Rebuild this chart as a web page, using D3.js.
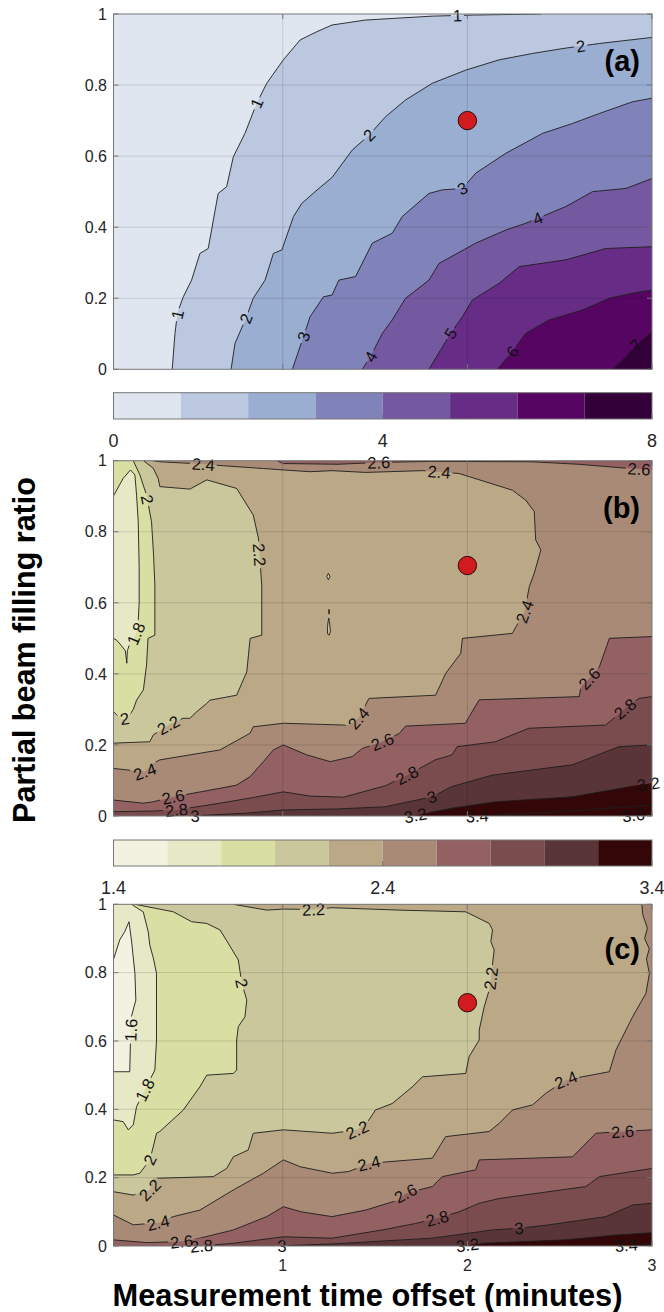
<!DOCTYPE html>
<html><head><meta charset="utf-8">
<script src="https://cdn.jsdelivr.net/npm/d3@7"></script>
<style>
body{margin:0;background:#fff;}
svg text{font-family:"Liberation Sans",Arial,Helvetica,sans-serif;}
</style></head><body>
<svg id="chart" width="664" height="1312"></svg>
<script>
// ---------------- DATA ----------------
const xDomain = [0.083, 3];
const yTicks = [0, 0.2, 0.4, 0.6, 0.8, 1];
const xTicks = [1, 2, 3];

const levelsA = [0,1,2,3,4,5,6,7,8];
const colorsA = ["#dfe6f0","#bcc8e0","#9aaed2","#8083b9","#7458a0","#672d86","#570563","#340039"];
const cbTicksA = [0,4,8];

const levelsBC = [1.4,1.6,1.8,2.0,2.2,2.4,2.6,2.8,3.0,3.2,3.4];
const colorsBC = ["#f2f2e1","#e6e8c6","#d9dea2","#c9c79b","#bba887","#a98a77","#946162","#7b4c4e","#5a3537","#330708"];
const cbTicksBC = [1.4,2.4,3.4];

const dotA = [2.0, 0.70];
const dotB = [2.0, 0.705];
const dotC = [2.0, 0.712];

// panel (a) contour lines [minutes, ratio]
const a1 = [[0.401,0],[0.416,0.101],[0.43,0.16],[0.461,0.204],[0.506,0.251],[0.551,0.326],[0.596,0.34],[0.65,0.495],[0.696,0.514],[0.732,0.598],[0.795,0.664],[0.859,0.749],[0.913,0.805],[1.003,0.871],[1.094,0.927],[1.184,0.95],[1.267,0.969],[1.448,0.983],[1.81,0.994],[2.027,0.997],[2.4,1]];
const a2 = [[0.72,0],[0.741,0.073],[0.80,0.143],[0.84,0.20],[0.904,0.251],[0.949,0.326],[0.995,0.336],[1.058,0.43],[1.103,0.467],[1.175,0.50],[1.267,0.54],[1.376,0.617],[1.467,0.659],[1.557,0.711],[1.665,0.758],[1.81,0.805],[1.991,0.842],[2.172,0.871],[2.353,0.889],[2.533,0.904],[2.715,0.917],[3,0.934]];
const a3 = [[1.052,0],[1.112,0.092],[1.148,0.148],[1.22,0.204],[1.267,0.209],[1.304,0.251],[1.394,0.261],[1.485,0.355],[1.593,0.383],[1.647,0.43],[1.792,0.495],[1.864,0.505],[1.973,0.509],[2.045,0.552],[2.208,0.608],[2.407,0.664],[2.57,0.692],[2.715,0.72],[2.895,0.753],[3,0.763]];
const a4 = [[1.43,0],[1.476,0.036],[1.539,0.101],[1.593,0.139],[1.665,0.20],[1.792,0.251],[1.846,0.298],[2.045,0.355],[2.208,0.392],[2.316,0.411],[2.533,0.458],[2.678,0.50],[2.859,0.509],[3,0.537]];
const a5 = [[1.792,0],[1.909,0.101],[1.973,0.148],[2.027,0.195],[2.172,0.242],[2.281,0.289],[2.533,0.308],[2.75,0.34],[3,0.345]];
const a6 = [[2.163,0],[2.244,0.05],[2.316,0.101],[2.443,0.139],[2.624,0.167],[2.769,0.20],[2.895,0.214],[3,0.223]];
const a7 = [[2.787,0],[2.86,0.036],[2.913,0.068],[3,0.106]];

// panel (b) contour lines
const b18 = [[0.082,0.90],[0.135,0.95],[0.175,0.974],[0.199,0.96],[0.208,0.903],[0.217,0.828],[0.222,0.70],[0.222,0.60],[0.215,0.53],[0.20,0.505],[0.175,0.49],[0.158,0.465],[0.155,0.43],[0.147,0.465],[0.125,0.48],[0.10,0.495],[0.082,0.50]];
const b20 = [[0.19,1],[0.226,0.96],[0.262,0.903],[0.289,0.828],[0.30,0.735],[0.307,0.65],[0.307,0.509],[0.27,0.50],[0.262,0.425],[0.245,0.355],[0.208,0.326],[0.19,0.30],[0.16,0.276],[0.13,0.272],[0.10,0.285],[0.082,0.294]];
const b22 = [[0.245,1],[0.298,0.979],[0.325,0.95],[0.334,0.927],[0.497,0.92],[0.588,0.946],[0.75,0.922],[0.84,0.847],[0.868,0.782],[0.886,0.65],[0.886,0.509],[0.823,0.50],[0.805,0.406],[0.75,0.34],[0.605,0.326],[0.588,0.317],[0.533,0.293],[0.497,0.275],[0.46,0.275],[0.38,0.256],[0.298,0.228],[0.28,0.209],[0.082,0.205]];
const b24 = [[0.297,1],[0.334,0.997],[0.515,0.992],[0.70,0.985],[0.895,0.978],[1.003,0.974],[1.148,0.969],[1.267,0.972],[1.448,0.967],[1.756,0.972],[1.955,0.964],[2.244,0.917],[2.316,0.889],[2.362,0.857],[2.37,0.777],[2.398,0.749],[2.362,0.683],[2.335,0.645],[2.31,0.575],[2.253,0.523],[2.244,0.514],[1.973,0.50],[1.964,0.458],[1.882,0.401],[1.828,0.34],[1.467,0.331],[1.41,0.275],[1.36,0.256],[1.329,0.256],[1.003,0.261],[0.84,0.251],[0.823,0.233],[0.66,0.186],[0.334,0.158],[0.298,0.148],[0.253,0.125],[0.15,0.13],[0.082,0.134]];
const b26top = [[0.97,1],[1.0,0.992],[1.3,0.99],[1.52,0.995],[1.8,0.998],[2.35,0.997],[2.6,0.99],[2.86,0.979],[3,0.975]];
const b26 = [[0.082,0.045],[0.244,0.036],[0.298,0.04],[0.406,0.054],[0.66,0.078],[0.75,0.087],[0.823,0.111],[0.895,0.153],[0.949,0.186],[1.003,0.20],[1.13,0.172],[1.257,0.153],[1.376,0.167],[1.43,0.19],[1.539,0.209],[1.63,0.232],[1.665,0.253],[1.99,0.261],[2.01,0.28],[2.064,0.327],[2.606,0.336],[2.615,0.364],[2.66,0.387],[2.715,0.42],[2.769,0.50],[3,0.505]];
const b28 = [[0.082,0.012],[0.298,0.014],[0.424,0.017],[0.66,0.036],[0.84,0.052],[1.003,0.068],[1.148,0.056],[1.329,0.053],[1.555,0.085],[1.673,0.115],[1.826,0.158],[1.917,0.172],[1.944,0.195],[2.152,0.209],[2.333,0.247],[2.749,0.256],[2.867,0.308],[2.93,0.331],[3,0.336]];
const b30 = [[0.50,0],[0.8,0.008],[1.003,0.017],[1.3,0.02],[1.555,0.026],[1.808,0.054],[1.917,0.083],[2.134,0.115],[2.568,0.144],[2.82,0.195],[3,0.20]];
const b32 = [[1.70,0],[1.917,0.022],[2.152,0.040],[2.568,0.054],[2.93,0.087],[3,0.092]];
const b34 = [[2.05,0],[2.5,0.012],[3,0.031]];
const b36 = [[2.85,0],[3,0.008]];
const bLoop1 = [[1.247,0.683],[1.256,0.674],[1.247,0.665],[1.238,0.674]];
const bLoop2 = [[1.249,0.557],[1.254,0.54],[1.258,0.52],[1.252,0.509],[1.243,0.512],[1.242,0.53],[1.245,0.545]];
const bLoop3 = [[1.249,0.581],[1.252,0.581],[1.252,0.569],[1.249,0.569]];

// panel (c) contour lines
const c16 = [[0.082,0.837],[0.117,0.896],[0.144,0.92],[0.167,0.949],[0.18,0.896],[0.199,0.798],[0.204,0.72],[0.18,0.671],[0.175,0.603],[0.171,0.51],[0.082,0.51]];
const c18 = [[0.18,1],[0.244,0.978],[0.271,0.92],[0.28,0.88],[0.30,0.84],[0.316,0.798],[0.316,0.603],[0.307,0.515],[0.253,0.457],[0.208,0.408],[0.19,0.354],[0.163,0.34],[0.135,0.364],[0.082,0.369]];
const c20 = [[0.199,1],[0.407,0.978],[0.506,0.949],[0.588,0.944],[0.66,0.925],[0.70,0.89],[0.759,0.837],[0.778,0.769],[0.805,0.72],[0.795,0.671],[0.759,0.642],[0.75,0.603],[0.75,0.515],[0.732,0.505],[0.588,0.50],[0.551,0.466],[0.461,0.398],[0.334,0.335],[0.316,0.33],[0.298,0.29],[0.28,0.252],[0.226,0.213],[0.19,0.208],[0.082,0.208]];
const c22 = [[0.732,1],[0.913,0.983],[1.003,0.986],[1.166,0.985],[1.267,0.99],[1.629,0.983],[1.991,0.978],[2.118,0.944],[2.136,0.925],[2.127,0.891],[2.145,0.866],[2.127,0.783],[2.118,0.749],[2.091,0.70],[2.064,0.632],[2.064,0.603],[2.009,0.554],[1.991,0.505],[1.756,0.495],[1.702,0.466],[1.593,0.417],[1.502,0.398],[1.467,0.369],[1.403,0.34],[1.267,0.33],[1.003,0.34],[0.84,0.33],[0.813,0.281],[0.732,0.261],[0.696,0.227],[0.624,0.203],[0.298,0.198],[0.28,0.164],[0.19,0.149],[0.082,0.159]];
const c24 = [[0.082,0.091],[0.19,0.062],[0.325,0.068],[0.407,0.086],[0.551,0.105],[0.732,0.164],[0.895,0.213],[1.003,0.252],[1.094,0.232],[1.267,0.213],[1.358,0.218],[1.467,0.242],[1.81,0.257],[1.882,0.32],[2.118,0.335],[2.172,0.359],[2.244,0.398],[2.353,0.413],[2.425,0.447],[2.533,0.486],[2.769,0.51],[2.805,0.574],[2.895,0.671],[2.967,0.739],[2.986,0.798],[2.97,0.84],[2.985,0.87],[2.96,0.90],[2.975,0.93],[2.95,0.97],[2.945,1]];
const c26 = [[0.082,0.018],[0.262,0.01],[0.452,0.013],[0.551,0.023],[0.732,0.047],[0.913,0.086],[1.003,0.115],[1.1,0.10],[1.267,0.086],[1.448,0.105],[1.629,0.135],[1.665,0.154],[1.81,0.174],[1.864,0.203],[2.045,0.223],[2.064,0.252],[2.57,0.261],[2.696,0.33],[2.841,0.335],[3,0.34]];
const c28 = [[0.55,0],[0.732,0.008],[1.003,0.027],[1.267,0.023],[1.539,0.047],[1.72,0.066],[1.837,0.081],[1.955,0.10],[2.064,0.125],[2.172,0.139],[2.642,0.174],[2.715,0.203],[3,0.227]];
const c30 = [[0.97,0],[1.267,0.006],[1.81,0.023],[2.136,0.047],[2.28,0.052],[2.443,0.062],[2.75,0.086],[2.895,0.12],[3,0.125]];
const c32 = [[1.95,0],[2.08,0.008],[2.533,0.018],[2.805,0.032],[3,0.039]];
const c34 = [[2.8,0],[3,0.008]];

// contour label anchors [level, minutes, ratio]
const labelsA = [[1,0.443,0.153],[1,0.859,0.749],[1,1.946,0.992],[2,0.80,0.143],[2,1.467,0.659],[2,2.615,0.905],[3,1.112,0.092],[3,1.973,0.509],[4,1.476,0.036],[4,2.389,0.415],[5,1.909,0.101],[6,2.244,0.05],[7,2.913,0.068]];
const labelsB = [[2.4,0.57,0.993],[2.4,1.846,0.965],[2.4,2.31,0.575],[2.4,1.41,0.275],[2.4,0.253,0.125],
  [2.6,1.52,0.997],[2.6,2.93,0.975],[2.6,0.406,0.054],[2.6,1.539,0.209],[2.6,2.66,0.387],
  [2.8,0.424,0.017],[2.8,1.673,0.115],[2.8,2.86,0.298],[3,0.524,0.002],[3,1.808,0.054],
  [3.2,1.718,0.003],[3.2,2.98,0.092],[3.4,2.053,0.0],[3.6,2.9,0.0],
  [2.2,0.38,0.256],[2.2,0.868,0.735],[2,0.245,0.889],[2,0.144,0.272],[1.8,0.199,0.514]];
const labelsC = [[2.2,1.166,0.985],[2.2,2.127,0.783],[2.2,1.403,0.34],[2.2,0.28,0.164],
  [2,0.778,0.769],[2,0.28,0.252],[1.8,0.253,0.457],[1.6,0.18,0.632],
  [2.4,0.325,0.068],[2.4,1.467,0.242],[2.4,2.533,0.486],
  [2.6,0.452,0.013],[2.6,1.665,0.154],[2.6,2.841,0.335],
  [2.8,0.56,0.0],[2.8,1.837,0.081],[3,0.995,0.0],[3,2.28,0.052],[3.2,2.0,0.005],[3.4,2.86,0.003]];

// fill regions (painted in order): hi = region above level, dir = boundary walk
const regionsA = [
  {level:1,pts:a1,hi:true,dir:-1},{level:2,pts:a2,hi:true,dir:-1},{level:3,pts:a3,hi:true,dir:-1},
  {level:4,pts:a4,hi:true,dir:-1},{level:5,pts:a5,hi:true,dir:-1},{level:6,pts:a6,hi:true,dir:-1},
  {level:7,pts:a7,hi:true,dir:-1}];
const regionsB = [
  {level:2.6,pts:b26,hi:true,dir:-1},{level:2.8,pts:b28,hi:true,dir:-1},{level:3.0,pts:b30,hi:true,dir:-1},
  {level:3.2,pts:b32,hi:true,dir:-1},{level:3.4,pts:b34,hi:true,dir:-1},{level:3.6,pts:b36,hi:true,dir:-1},
  {level:2.6,pts:b26top,hi:true,dir:1},
  {level:2.4,pts:b24,hi:false,dir:-1},{level:2.2,pts:b22,hi:false,dir:-1},{level:2.0,pts:b20,hi:false,dir:-1},
  {level:1.8,pts:b18,hi:false,dir:-1},
  {level:2.2,pts:bLoop1,hi:false,dir:0},{level:2.2,pts:bLoop2,hi:false,dir:0},{level:2.2,pts:bLoop3,hi:false,dir:0}];
const regionsC = [
  {level:2.6,pts:c26,hi:true,dir:-1},{level:2.8,pts:c28,hi:true,dir:-1},{level:3.0,pts:c30,hi:true,dir:-1},
  {level:3.2,pts:c32,hi:true,dir:-1},{level:3.4,pts:c34,hi:true,dir:-1},
  {level:2.4,pts:c24,hi:false,dir:1},{level:2.2,pts:c22,hi:false,dir:-1},{level:2.0,pts:c20,hi:false,dir:-1},
  {level:1.8,pts:c18,hi:false,dir:-1},{level:1.6,pts:c16,hi:false,dir:-1}];

// ---------------- DRAWING ----------------
const svg = d3.select("#chart");
const defs = svg.append("defs");
const X0 = 113.5, X1 = 652;
const xs = d3.scaleLinear().domain(xDomain).range([X0, X1]);

const colorA = d3.scaleThreshold().domain(levelsA.slice(1,-1)).range(colorsA);
const colorBC = d3.scaleThreshold().domain(levelsBC.slice(1,-1)).range(colorsBC);

const panels = [
  {name:"(a)", top:14, bottom:369.3, bg:0, step:1, color:colorA, regions:regionsA, labels:labelsA, dot:dotA,
   cb:{top:392.7, bottom:419, levels:levelsA, colors:colorsA, ticks:cbTicksA}, xlab:false},
  {name:"(b)", top:460.7, bottom:816, bg:2.4, step:0.2, color:colorBC, regions:regionsB, labels:labelsB, dot:dotB,
   cb:{top:840, bottom:866, levels:levelsBC, colors:colorsBC, ticks:cbTicksBC}, xlab:false},
  {name:"(c)", top:904.3, bottom:1246, bg:2.4, step:0.2, color:colorBC, regions:regionsC, labels:labelsC, dot:dotC,
   cb:null, xlab:true}
];

function closeRing(pts, dir) {
  if (!dir) return pts.slice();
  const [x0, x1] = xDomain, Wd = x1 - x0, P = 2*Wd + 2;
  const perim = ([x, y]) => {
    if (x <= x0 + 0.005) return 2*Wd + 1 + (1 - y);
    if (y <= 0.001) return x - x0;
    if (x >= x1 - 0.001) return Wd + y;
    return Wd + 1 + (x1 - x);
  };
  const corners = [[0,[x0,0]],[Wd,[x1,0]],[Wd+1,[x1,1]],[2*Wd+1,[x0,1]]];
  const sE = perim(pts[pts.length-1]), sS = perim(pts[0]);
  const dist = s => dir > 0 ? (((s - sE) % P) + P) % P : (((sE - s) % P) + P) % P;
  const dS = dist(sS);
  const cs = corners.filter(c => { const d = dist(c[0]); return d > 1e-9 && d < dS; })
                    .sort((a,b) => dist(a[0]) - dist(b[0]));
  return pts.concat(cs.map(c => c[1]));
}

const mask = defs.append("mask").attr("id","lblmask").attr("maskUnits","userSpaceOnUse")
  .attr("x",0).attr("y",0).attr("width",664).attr("height",1312);
mask.append("rect").attr("width",664).attr("height",1312).attr("fill","#fff");

const fmtTick = d3.format("~g");

panels.forEach((p, pi) => {
  const ys = d3.scaleLinear().domain([0,1]).range([p.bottom, p.top]);
  const line = d3.line().x(d => xs(d[0])).y(d => ys(d[1]));
  const clipId = "clip" + pi;
  defs.append("clipPath").attr("id", clipId).append("rect")
    .attr("x", X0).attr("y", p.top).attr("width", X1 - X0).attr("height", p.bottom - p.top);

  const g = svg.append("g");
  const fills = g.append("g").attr("clip-path", `url(#${clipId})`);
  fills.append("rect").attr("x", X0).attr("y", p.top).attr("width", X1 - X0).attr("height", p.bottom - p.top)
    .attr("fill", p.color(p.bg + 1e-6));
  p.regions.forEach(r => {
    const band = r.hi ? r.level : r.level - p.step;
    fills.append("path").attr("d", line(closeRing(r.pts, r.dir)) + "Z")
      .attr("fill", p.color(band + 1e-6)).attr("stroke", "none");
  });

  // grid
  const grid = g.append("g").attr("stroke", "#000").attr("stroke-opacity", 0.13).attr("stroke-width", 1);
  xTicks.filter(t => t < xDomain[1]).forEach(t => grid.append("line").attr("x1", xs(t)).attr("x2", xs(t)).attr("y1", p.top).attr("y2", p.bottom));
  yTicks.filter(t => t > 0 && t < 1).forEach(t => grid.append("line").attr("x1", X0).attr("x2", X1).attr("y1", ys(t)).attr("y2", ys(t)));

  // contour lines
  const lines = g.append("g").attr("clip-path", `url(#${clipId})`).append("g").attr("mask", "url(#lblmask)")
    .attr("fill", "none").attr("stroke", "#1e1e1e").attr("stroke-width", 0.9);
  p.regions.forEach(r => {
    lines.append("path").attr("d", line(r.pts) + (r.dir === 0 ? "Z" : ""));
  });

  // labels
  const lab = g.append("g").attr("fill", "#111").attr("font-size", 16.5);
  p.labels.forEach(([lev, lx, ly]) => {
    const px = xs(lx), py = ys(ly);
    let best = null;
    p.regions.filter(r => Math.abs(r.level - lev) < 1e-6).forEach(r => {
      const sp = r.pts.map(q => [xs(q[0]), ys(q[1])]);
      const cum = [0];
      for (let i = 1; i < sp.length; i++) cum.push(cum[i-1] + Math.hypot(sp[i][0]-sp[i-1][0], sp[i][1]-sp[i-1][1]));
      for (let i = 0; i < sp.length - 1; i++) {
        const [x1, y1] = sp[i], [x2, y2] = sp[i+1];
        const dx = x2 - x1, dy = y2 - y1, L2 = dx*dx + dy*dy;
        let t = L2 ? ((px - x1)*dx + (py - y1)*dy) / L2 : 0;
        t = Math.max(0, Math.min(1, t));
        const qx = x1 + t*dx, qy = y1 + t*dy, d = (qx-px)**2 + (qy-py)**2;
        if (!best || d < best.d) best = {d, qx, qy, s: cum[i] + t*Math.sqrt(L2), sp, cum};
      }
    });
    if (!best) return;
    const at = s => {
      const {sp, cum} = best;
      s = Math.max(0, Math.min(cum[cum.length-1], s));
      let i = 0; while (i < cum.length - 2 && cum[i+1] < s) i++;
      const seg = cum[i+1] - cum[i] || 1, t = (s - cum[i]) / seg;
      return [sp[i][0] + t*(sp[i+1][0]-sp[i][0]), sp[i][1] + t*(sp[i+1][1]-sp[i][1])];
    };
    const pa = at(best.s - 10), pb = at(best.s + 10);
    let ang = Math.atan2(pb[1]-pa[1], pb[0]-pa[0]) * 180 / Math.PI;
    if (ang > 90) ang -= 180; if (ang < -90) ang += 180;
    const tf = `translate(${best.qx},${best.qy}) rotate(${ang})`;
    const txt = lab.append("text").attr("transform", tf).attr("text-anchor", "middle").attr("dy", "0.36em").text(String(lev));
    const w = txt.node().getComputedTextLength();
    mask.append("rect").attr("transform", tf).attr("x", -w/2 - 2).attr("y", -7.5).attr("width", w + 4).attr("height", 15).attr("fill", "#000");
  });

  // red dot
  g.append("circle").attr("cx", xs(p.dot[0])).attr("cy", ys(p.dot[1])).attr("r", 9.2)
    .attr("fill", "#d11b1e").attr("stroke", "#2a0a0a").attr("stroke-width", 1);

  // axes box + ticks
  const ax = g.append("g").attr("stroke", "#767676").attr("stroke-width", 1).attr("fill", "none");
  ax.append("rect").attr("x", X0).attr("y", p.top).attr("width", X1 - X0).attr("height", p.bottom - p.top);
  yTicks.forEach(t => {
    ax.append("line").attr("x1", X0).attr("x2", X0 + 5).attr("y1", ys(t)).attr("y2", ys(t));
    ax.append("line").attr("x1", X1).attr("x2", X1 - 5).attr("y1", ys(t)).attr("y2", ys(t));
  });
  xTicks.forEach(t => {
    ax.append("line").attr("x1", xs(t)).attr("x2", xs(t)).attr("y1", p.bottom).attr("y2", p.bottom - 5);
    ax.append("line").attr("x1", xs(t)).attr("x2", xs(t)).attr("y1", p.top).attr("y2", p.top + 5);
  });
  const tl = g.append("g").attr("fill", "#262626").attr("font-size", 16);
  yTicks.forEach(t => tl.append("text").attr("x", 107).attr("y", ys(t) + 5.7).attr("text-anchor", "end").text(fmtTick(t)));
  if (p.xlab) xTicks.forEach(t => tl.append("text").attr("x", xs(t)).attr("y", p.bottom + 25).attr("text-anchor", "middle").text(fmtTick(t)));

  // panel letter
  g.append("text").attr("x", 640).attr("y", ys(0.84)).attr("text-anchor", "end")
    .attr("font-size", 29).attr("font-weight", "bold").attr("fill", "#000").text(p.name);

  // colorbar
  if (p.cb) {
    const c = p.cb;
    const cs = d3.scaleLinear().domain([c.levels[0], c.levels[c.levels.length-1]]).range([X0, X1]);
    const cg = g.append("g");
    c.colors.forEach((col, i) => cg.append("rect").attr("x", cs(c.levels[i])).attr("y", c.top)
      .attr("width", cs(c.levels[i+1]) - cs(c.levels[i])).attr("height", c.bottom - c.top).attr("fill", col));
    cg.append("rect").attr("x", X0).attr("y", c.top).attr("width", X1 - X0).attr("height", c.bottom - c.top)
      .attr("fill", "none").attr("stroke", "#767676");
    c.ticks.forEach(t => {
      cg.append("line").attr("x1", cs(t)).attr("x2", cs(t)).attr("y1", c.bottom).attr("y2", c.bottom - 5).attr("stroke", "#767676");
      cg.append("text").attr("x", cs(t)).attr("y", c.bottom + 28).attr("text-anchor", "middle")
        .attr("font-size", 18).attr("fill", "#262626").text(fmtTick(t));
    });
  }
});

// axis titles
svg.append("text").attr("transform", "translate(35,650) rotate(-90)").attr("text-anchor", "middle")
  .attr("font-size", 30.5).attr("font-weight", "bold").attr("fill", "#000").text("Partial beam filling ratio");
svg.append("text").attr("x", 367.5).attr("y", 1306).attr("text-anchor", "middle")
  .attr("font-size", 30.8).attr("font-weight", "bold").attr("fill", "#000").text("Measurement time offset (minutes)");
</script>
</body></html>
